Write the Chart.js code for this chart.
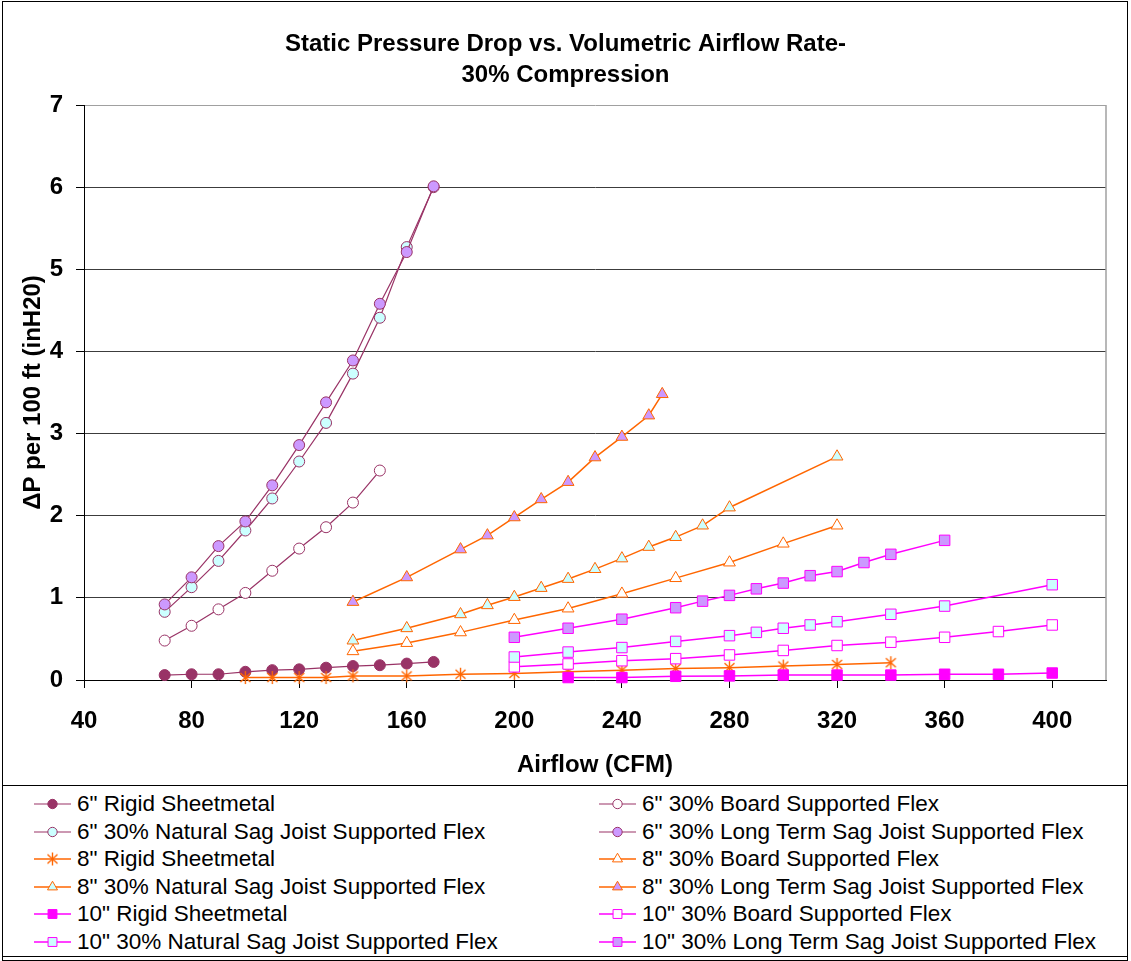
<!DOCTYPE html>
<html>
<head>
<meta charset="utf-8">
<title>Static Pressure Drop vs. Volumetric Airflow Rate</title>
<script src="https://cdn.jsdelivr.net/npm/chart.js@4.4.1/dist/chart.umd.min.js"></script>
<style>
  html, body { margin: 0; padding: 0; background: #fff; }
  #wrap { position: relative; width: 1131px; height: 961px; overflow: hidden; font-family: "Liberation Sans", Arial, sans-serif; }
  #chart { position: absolute; left: 0; top: 0; }
  #frame { position: absolute; left: 2px; top: 1px; width: 1126px; height: 960px; border: 1px solid #000; box-sizing: border-box; pointer-events: none; }
  #legend { position: absolute; left: 2px; top: 785px; width: 1126px; height: 172px; border-top: 1px solid #000; border-bottom: 1px solid #000; box-sizing: border-box; }
  .item { position: absolute; height: 28px; display: flex; align-items: center; font-size: 22.5px; color: #000; white-space: nowrap; }
  .item canvas { margin-right: 6px; }
</style>
</head>
<body>
<div id="wrap">
  <canvas id="chart" width="1131" height="785"></canvas>
  <div id="legend"></div>
  <div id="frame"></div>
</div>
<script>
// --- Data ---
const xTicks = [40, 80, 120, 160, 200, 240, 280, 320, 360, 400];
const yTicks = [0, 1, 2, 3, 4, 5, 6, 7];

// 6" duct
const cfm6 = [70, 80, 90, 100, 110, 120, 130, 140, 150, 160, 170];
const rigid6 = [0.06, 0.07, 0.07, 0.10, 0.12, 0.13, 0.15, 0.17, 0.18, 0.20, 0.22];
const boardCfm6 = [70, 80, 90, 100, 110, 120, 130, 140, 150];
const board6 = [0.48, 0.66, 0.86, 1.06, 1.33, 1.60, 1.86, 2.16, 2.55];
const natSag6 = [0.83, 1.13, 1.45, 1.82, 2.21, 2.66, 3.13, 3.73, 4.41, 5.27, 6.00];
const longSag6 = [0.92, 1.25, 1.63, 1.93, 2.37, 2.86, 3.38, 3.89, 4.58, 5.21, 6.01];

// 8" duct
const rigidCfm8 = [100, 110, 120, 130, 140, 160, 180, 200, 220, 240, 260, 280, 300, 320, 340];
const rigid8 = [0.03, 0.03, 0.03, 0.03, 0.05, 0.05, 0.07, 0.08, 0.10, 0.12, 0.14, 0.15, 0.17, 0.19, 0.21];
const boardCfm8 = [140, 160, 180, 200, 220, 240, 260, 280, 300, 320];
const board8 = [0.35, 0.45, 0.58, 0.73, 0.87, 1.05, 1.24, 1.43, 1.66, 1.88];
const natCfm8 = [140, 160, 180, 190, 200, 210, 220, 230, 240, 250, 260, 270, 280, 320];
const natSag8 = [0.48, 0.63, 0.80, 0.91, 1.01, 1.12, 1.23, 1.35, 1.48, 1.62, 1.74, 1.88, 2.10, 2.72];
const longCfm8 = [140, 160, 180, 190, 200, 210, 220, 230, 240, 250, 255];
const longSag8 = [0.95, 1.25, 1.59, 1.76, 1.98, 2.20, 2.41, 2.71, 2.96, 3.22, 3.48];

// 10" duct
const rigidCfm10 = [220, 240, 260, 280, 300, 320, 340, 360, 380, 400];
const rigid10 = [0.03, 0.03, 0.045, 0.05, 0.06, 0.06, 0.06, 0.07, 0.07, 0.085];
const boardCfm10 = [200, 220, 240, 260, 280, 300, 320, 340, 360, 380, 400];
const board10 = [0.16, 0.195, 0.235, 0.26, 0.305, 0.36, 0.42, 0.46, 0.52, 0.59, 0.67];
const natCfm10 = [200, 220, 240, 260, 280, 290, 300, 310, 320, 340, 360, 400];
const natSag10 = [0.28, 0.34, 0.395, 0.47, 0.54, 0.58, 0.63, 0.67, 0.71, 0.80, 0.90, 1.16];
const longCfm10 = [200, 220, 240, 260, 270, 280, 290, 300, 310, 320, 330, 340, 360];
const longSag10 = [0.52, 0.63, 0.74, 0.88, 0.96, 1.03, 1.11, 1.18, 1.27, 1.32, 1.43, 1.53, 1.70];

// --- Colours ---
const MAROON = '#993366', ORANGE = '#FF6600', MAGENTA = '#FF00FF';
const LAVENDER = '#CC99FF', AQUA = '#CCFFFF', WHITE = '#FFFFFF';
const FONT = '"Liberation Sans", Arial, sans-serif';

// asterisk marker (Excel style: X plus vertical bar)
function makeAsterisk(color) {
  const c = document.createElement('canvas');
  c.width = c.height = 15;
  const g = c.getContext('2d');
  g.strokeStyle = color;
  g.lineWidth = 1.4;
  g.beginPath();
  g.moveTo(7.5, 1); g.lineTo(7.5, 14);
  g.moveTo(2.5, 3); g.lineTo(12.5, 12);
  g.moveTo(12.5, 3); g.lineTo(2.5, 12);
  g.stroke();
  return c;
}
const asterisk = makeAsterisk(ORANGE);

function pts(xs, ys) {
  return xs.map((x, i) => ({ x: x, y: ys[i] }));
}

// label, x, y, line colour, marker, fill, radius, line width
const seriesDefs = [
  ['6" Rigid Sheetmetal', cfm6, rigid6, MAROON, 'circle', MAROON, 5.5, 1.2],
  ['6" 30% Board Supported Flex', boardCfm6, board6, MAROON, 'circle', WHITE, 5.5, 1.2],
  ['6" 30% Natural Sag Joist Supported Flex', cfm6, natSag6, MAROON, 'circle', AQUA, 5.5, 1.2],
  ['6" 30% Long Term Sag Joist Supported Flex', cfm6, longSag6, MAROON, 'circle', LAVENDER, 5.5, 1.2],
  ['8" Rigid Sheetmetal', rigidCfm8, rigid8, ORANGE, asterisk, ORANGE, 7, 1.5],
  ['8" 30% Board Supported Flex', boardCfm8, board8, ORANGE, 'triangle', WHITE, 6.8, 1.5],
  ['8" 30% Natural Sag Joist Supported Flex', natCfm8, natSag8, ORANGE, 'triangle', AQUA, 6.8, 1.5],
  ['8" 30% Long Term Sag Joist Supported Flex', longCfm8, longSag8, ORANGE, 'triangle', LAVENDER, 6.8, 1.5],
  ['10" Rigid Sheetmetal', rigidCfm10, rigid10, MAGENTA, 'rect', MAGENTA, 7.4, 1.5],
  ['10" 30% Board Supported Flex', boardCfm10, board10, MAGENTA, 'rect', WHITE, 7.4, 1.5],
  ['10" 30% Natural Sag Joist Supported Flex', natCfm10, natSag10, MAGENTA, 'rect', AQUA, 7.4, 1.5],
  ['10" 30% Long Term Sag Joist Supported Flex', longCfm10, longSag10, MAGENTA, 'rect', LAVENDER, 7.4, 1.5]
];

const datasets = seriesDefs.map((s, i) => ({
  label: s[0],
  data: pts(s[1], s[2]),
  borderColor: s[3],
  borderWidth: s[7],
  backgroundColor: s[5],
  pointStyle: s[4],
  pointRadius: s[6],
  pointBackgroundColor: s[5],
  pointBorderColor: s[3],
  pointBorderWidth: 1,
  tension: 0,
  fill: false,
  clip: false,
  order: seriesDefs.length - i   // later series on top, like Excel
}));

// right edge of the plot area (light grey)
const plotEdge = {
  id: 'plotEdge',
  beforeDatasetsDraw(chart) {
    const { ctx, chartArea: a } = chart;
    ctx.save();
    ctx.strokeStyle = '#a0a0a0';
    ctx.lineWidth = 1.5;
    ctx.beginPath();
    ctx.moveTo(a.right, a.top);
    ctx.lineTo(a.right, a.bottom);
    ctx.stroke();
    ctx.restore();
  }
};

const chart = new Chart(document.getElementById('chart'), {
  type: 'line',
  data: { datasets: datasets },
  plugins: [plotEdge],
  options: {
    responsive: false,
    animation: false,
    layout: { padding: 0 },
    plugins: {
      legend: { display: false },
      tooltip: { enabled: false },
      title: {
        display: true,
        text: ['Static Pressure Drop vs. Volumetric Airflow Rate-', '30% Compression'],
        color: '#000',
        font: { family: FONT, size: 24, weight: 'bold', lineHeight: 31 / 24 },
        padding: { top: 28.5, bottom: 14.5 }
      }
    },
    scales: {
      x: {
        type: 'linear',
        min: 40,
        max: 420,
        afterBuildTicks: (s) => { s.ticks = xTicks.map(v => ({ value: v })); },
        afterFit: (s) => { s.height = 105; },
        grid: { drawOnChartArea: false, drawTicks: true, tickLength: 8, tickColor: '#000' },
        border: { display: true, color: '#000', width: 1 },
        ticks: { color: '#000', font: { family: FONT, size: 24, weight: 'bold' }, padding: 19, maxRotation: 0 },
        title: {
          display: true,
          text: 'Airflow (CFM)',
          color: '#000',
          font: { family: FONT, size: 24, weight: 'bold' },
          padding: { top: 4, bottom: 5.6 }
        }
      },
      y: {
        min: 0,
        max: 7,
        afterBuildTicks: (s) => { s.ticks = yTicks.map(v => ({ value: v })); },
        afterFit: (s) => { s.width = 84; },
        grid: {
          color: (c) => (c.tick && c.tick.value === 7 ? '#a0a0a0' : '#3c3c3c'),
          lineWidth: 1,
          tickLength: 8,
          tickColor: '#000'
        },
        border: { display: true, color: '#000', width: 1 },
        ticks: { color: '#000', font: { family: FONT, size: 24, weight: 'bold' }, padding: 13 },
        title: {
          display: true,
          text: '\u0394P per 100 ft (inH20)',
          color: '#000',
          font: { family: FONT, size: 24, weight: 'bold' },
          padding: { top: 18.6, bottom: 0 }
        }
      },
      yRight: {
        position: 'right',
        display: true,
        afterFit: (s) => { s.width = 25; },
        grid: { display: false },
        border: { display: false },
        ticks: { display: false }
      }
    }
  }
});

// --- HTML legend, two columns like the Excel legend box ---
function drawSample(c, ds) {
  const g = c.getContext('2d');
  const w = c.width, h = c.height, cx = w / 2, cy = h / 2;
  g.strokeStyle = ds.borderColor;
  g.lineWidth = ds.borderWidth;
  g.beginPath();
  g.moveTo(0, cy); g.lineTo(w, cy);
  g.stroke();
  const r = ds.pointRadius * 0.85;
  const st = ds.pointStyle;
  if (typeof st !== 'string') {
    g.drawImage(st, cx - st.width / 2, cy - st.height / 2);
    return;
  }
  g.fillStyle = ds.pointBackgroundColor;
  g.strokeStyle = ds.pointBorderColor;
  g.lineWidth = 1;
  g.beginPath();
  if (st === 'circle') {
    g.arc(cx, cy, r, 0, Math.PI * 2);
  } else if (st === 'triangle') {
    g.moveTo(cx, cy - r);
    g.lineTo(cx + r * 0.866, cy + r * 0.5);
    g.lineTo(cx - r * 0.866, cy + r * 0.5);
    g.closePath();
  } else {
    const s = r * Math.SQRT1_2;
    g.rect(cx - s, cy - s, 2 * s, 2 * s);
  }
  g.fill();
  g.stroke();
}

const legendEl = document.getElementById('legend');
chart.data.datasets.forEach((ds, i) => {
  const row = Math.floor(i / 2), col = i % 2;
  const item = document.createElement('div');
  item.className = 'item';
  item.style.left = (col ? 597 : 32) + 'px';
  item.style.top = (4 + row * 27.6) + 'px';
  const c = document.createElement('canvas');
  c.width = 37; c.height = 20;
  drawSample(c, ds);
  const span = document.createElement('span');
  span.textContent = ds.label;
  item.appendChild(c);
  item.appendChild(span);
  legendEl.appendChild(item);
});
</script>
</body>
</html>
